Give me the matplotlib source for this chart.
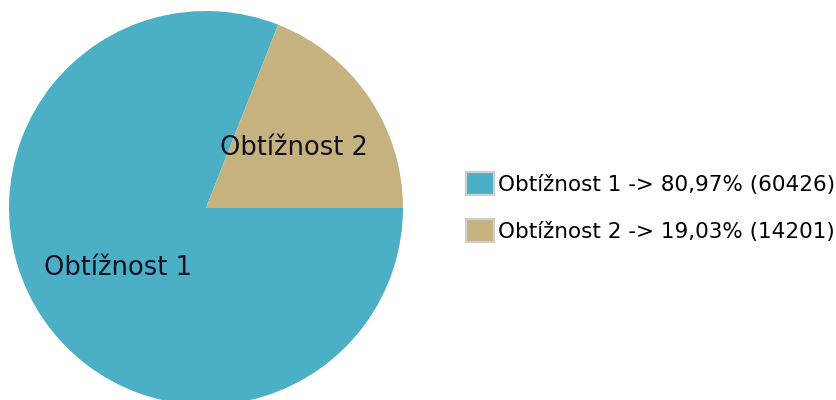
import matplotlib.pyplot as plt
from matplotlib.patches import Patch

labels = ['Obtížnost 1', 'Obtížnost 2']
counts = [60426, 14201]
colors = ['#4BB0C6', '#C6B27E']

total = sum(counts)
legend_labels = []
for lab, c in zip(labels, counts):
    pct = ('%.2f' % (100.0 * c / total)).replace('.', ',')
    legend_labels.append('%s -> %s%% (%d)' % (lab, pct, c))

fig = plt.figure(figsize=(8.36, 4.0), dpi=100)
# pie axes: center at (206, 208) px, radius 197 px
r = 197
ax = fig.add_axes([(206 - r) / 836, (400 - 208 - r) / 400, 2 * r / 836, 2 * r / 400])
ax.pie(counts, colors=colors, labels=labels, startangle=0, counterclock=False,
       labeldistance=0.54, radius=1.0,
       textprops={'fontsize': 18.5, 'color': '#111122', 'ha': 'center', 'va': 'center'},
       wedgeprops={'linewidth': 0})
ax.set_xlim(-1, 1)
ax.set_ylim(-1, 1)
ax.set_aspect('equal')
ax.axis('off')

handles = [Patch(facecolor=col, edgecolor='#cfcfcf', linewidth=1.6) for col in colors]
fig.legend(handles, legend_labels, loc='center left',
           bbox_to_anchor=(457.5 / 836, 1 - 207 / 400), frameon=False,
           fontsize=15.5, handlelength=1.28, handleheight=1.3,
           handletextpad=0.2, labelspacing=1.1, borderaxespad=0)

fig.savefig('out.png', dpi=100)
